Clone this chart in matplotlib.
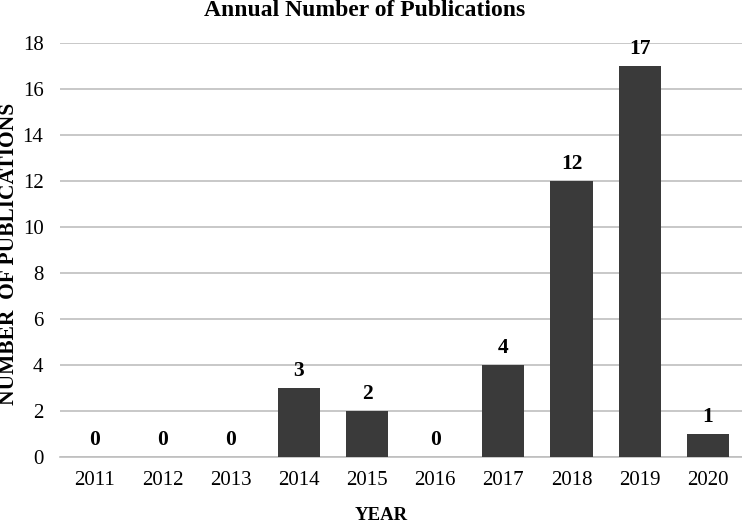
import matplotlib
matplotlib.use("Agg")
import matplotlib.pyplot as plt

# data
years = ["2011", "2012", "2013", "2014", "2015", "2016", "2017", "2018", "2019", "2020"]
counts = [0, 0, 0, 3, 2, 0, 4, 12, 17, 1]
yticks = [0, 2, 4, 6, 8, 10, 12, 14, 16, 18]

plt.rcParams["font.family"] = ["Liberation Serif", "DejaVu Serif"]

fig = plt.figure(figsize=(7.42, 5.23), dpi=100)
ax = fig.add_axes([0.081, 0.126, 0.919, 0.792])

x = range(len(years))
ax.bar(x, counts, width=0.62, color="#3a3a3a", zorder=3)

# value labels above each bar
for i, v in enumerate(counts):
    ax.annotate(str(v), (i, v), xytext=(0, 5), textcoords="offset points",
                ha="center", va="bottom", fontsize=15.5, fontweight="bold")

ax.set_xlim(-0.5, len(years) - 0.5)
ax.set_ylim(0, 18)
ax.set_yticks(yticks)
ax.set_xticks(list(x))
ax.set_xticklabels(years)
ax.tick_params(axis="both", length=0, labelsize=15, colors="black")
ax.tick_params(axis="x", pad=10)
ax.tick_params(axis="y", pad=12)

ax.yaxis.grid(True, color="#bfbfbf", linewidth=1.2, zorder=0)
for s in ["top", "right", "left"]:
    ax.spines[s].set_visible(False)
ax.spines["bottom"].set_color("#bfbfbf")
ax.spines["bottom"].set_linewidth(1.2)

# title and axis names placed by figure coords like the original
fig.text(365 / 742, 1 - 16 / 523, "Annual Number of Publications",
         ha="center", va="baseline", fontsize=17, fontweight="bold")
fig.text(381 / 742, 1 - 520 / 523, "YEAR",
         ha="center", va="baseline", fontsize=13.5, fontweight="bold")
fig.text(9.5 / 742, 1 - 254 / 523, "NUMBER  OF PUBLICATIONS", rotation=90,
         ha="center", va="center", fontsize=15.5, fontweight="bold")

fig.savefig("out.png", dpi=100)
